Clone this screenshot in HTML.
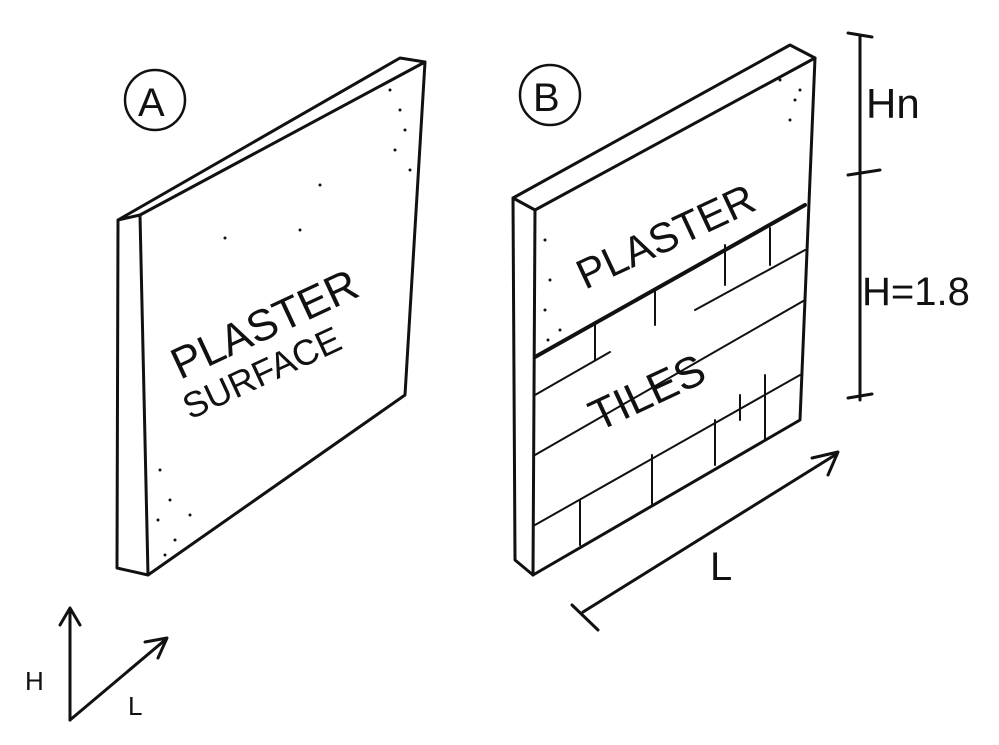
<!DOCTYPE html>
<html><head><meta charset="utf-8"><style>
html,body{margin:0;padding:0;background:#fff;}
svg{display:block}
text{font-family:"Liberation Sans",sans-serif;fill:#111;}
</style></head><body>
<svg width="999" height="745" viewBox="0 0 999 745" xmlns="http://www.w3.org/2000/svg">
<g stroke="#111" stroke-width="3" fill="none" stroke-linecap="round" stroke-linejoin="round">
<path d="M118,220 L400,58 L425,62 L140,215 Z"/>
<path d="M140,215 L148,575 L405,395 L425,62"/>
<path d="M118,220 L117,568 L148,575"/>
<circle cx="155" cy="100" r="30" stroke-width="2.5"/>
<path d="M513,198 L790,45 L815,58 L535,210 Z"/>
<path d="M535,210 L533,575 L800,420 L815,58"/>
<path d="M513,198 L515,560 L533,575"/>
<path d="M535,357 L805,205" stroke-width="4"/>
<circle cx="550" cy="95" r="30" stroke-width="2.5"/>
<g stroke-width="2">
<path d="M535,455 L805,300"/>
<path d="M535,525 L800,375"/>
<path d="M535,395 L610,352"/>
<path d="M695,310 L805,250"/>
<path d="M595,322 L595,360"/>
<path d="M655,290 L655,325"/>
<path d="M725,245 L725,285"/>
<path d="M770,228 L770,265"/>
<path d="M580,500 L580,545"/>
<path d="M652,455 L652,505"/>
<path d="M715,420 L715,465"/>
<path d="M740,395 L740,420"/>
<path d="M765,375 L765,440"/>
</g>
<path d="M860,35 L860,400"/>
<path d="M848,33 L872,37 M848,175 L880,170 M848,398 L872,394"/>
<path d="M583,612 L835,455 M572,605 L598,630 M812,458 L838,452 L828,475"/>
<path d="M70,720 L70,610 M60,625 L70,608 L80,625"/>
<path d="M70,720 L165,640 M145,642 L167,638 L158,658"/>
</g>
<g fill="#111">
<circle cx="390" cy="90" r="1.5"/><circle cx="400" cy="110" r="1.5"/><circle cx="405" cy="130" r="1.5"/><circle cx="395" cy="150" r="1.5"/><circle cx="410" cy="170" r="1.5"/><circle cx="320" cy="185" r="1.5"/><circle cx="300" cy="230" r="1.5"/><circle cx="225" cy="238" r="1.5"/>
<circle cx="160" cy="470" r="1.5"/><circle cx="170" cy="500" r="1.5"/><circle cx="158" cy="520" r="1.5"/><circle cx="175" cy="540" r="1.5"/><circle cx="190" cy="515" r="1.5"/><circle cx="165" cy="555" r="1.5"/>
<circle cx="780" cy="80" r="1.5"/><circle cx="795" cy="100" r="1.5"/><circle cx="790" cy="120" r="1.5"/><circle cx="800" cy="90" r="1.5"/>
<circle cx="545" cy="240" r="1.5"/><circle cx="550" cy="280" r="1.5"/><circle cx="545" cy="310" r="1.5"/><circle cx="560" cy="330" r="1.5"/><circle cx="548" cy="340" r="1.5"/>
</g>
<text x="138" y="116" font-size="40">A</text>
<text x="533" y="111" font-size="40">B</text>
<text x="866" y="118" font-size="42">Hn</text>
<text x="862" y="305" font-size="40">H=1.8</text>
<text x="710" y="580" font-size="40">L</text>
<text x="25" y="690" font-size="26">H</text>
<text x="128" y="715" font-size="26">L</text>
<text transform="translate(180,380) rotate(-25)" font-size="44">PLASTER</text>
<text transform="translate(190,420) rotate(-25)" font-size="36">SURFACE</text>
<text transform="translate(585,290) rotate(-25)" font-size="42">PLASTER</text>
<text transform="translate(598,432) rotate(-25)" font-size="44">TILES</text>
</svg>
</body></html>
